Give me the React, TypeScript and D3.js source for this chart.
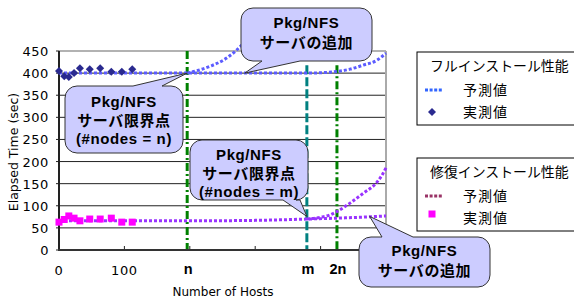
import React from "react";
import * as d3 from "d3";

// ---- data ----
const xTickValues = [0, 100, 200, 300, 400, 500];
const xTickLabels = ["0", "100"];
const yTickValues = [0, 50, 100, 150, 200, 250, 300, 350, 400, 450];
const markers = [
  { key: "n", value: 196, color: "#008000", dash: "8 3 2 3", top: 450 },
  { key: "m", value: 379, color: "#008080", dash: "9 3", top: 418 },
  { key: "2n", value: 425, color: "#008000", dash: "8 3 2 3", top: 418 },
];

const fullPredX = [0, 100, 200, 300, 380, 413, 445, 465, 486, 500];
const fullPredY = [400, 400, 400, 400, 400, 402, 409, 418, 429, 445];
const fullBranchX = [196, 212, 232, 252, 270, 285];
const fullBranchY = [400, 406, 416, 430, 450, 472];
const fullMeasX = [0, 8, 15, 23, 32, 47, 63, 80, 96, 112];
const fullMeasY = [405, 393, 391, 400, 411, 409, 411, 403, 403, 409];

const repPredX = [0, 100, 200, 300, 379, 425, 460, 500];
const repPredY = [66, 66, 66, 67, 70, 72, 74, 77];
const repBranchX = [379, 400, 414, 425, 445, 465, 486, 495, 500];
const repBranchY = [70, 74, 79, 87, 106, 128, 153, 172, 186];
const repMeasX = [0, 8, 15, 23, 32, 47, 63, 80, 96, 112];
const repMeasY = [63, 69, 77, 72, 66, 70, 70, 72, 63, 63];

const legend1 = { title: "フルインストール性能", pred: "予測値", meas: "実測値" };
const legend2 = { title: "修復インストール性能", pred: "予測値", meas: "実測値" };

const W = 574;
const H = 301;
const M = { left: 59, right: 386, top: 51, bottom: 250 };

const x = d3.scaleLinear().domain([0, 500]).range([M.left, M.right]);
const y = d3.scaleLinear().domain([0, 450]).range([M.bottom, M.top]);

const lineGen = d3
  .line<[number, number]>()
  .x((d) => x(d[0]))
  .y((d) => y(d[1]))
  .curve(d3.curveMonotoneX);

const zip = (a: number[], b: number[]) => a.map((v, i) => [v, b[i]] as [number, number]);

function callout(
  bx: number, by: number, bw: number, bh: number, r: number,
  side: "top" | "bottom", b1: number, b2: number, tx: number, ty: number
) {
  const p = d3.path();
  p.moveTo(bx + r, by);
  if (side === "top") { p.lineTo(b1, by); p.lineTo(tx, ty); p.lineTo(b2, by); }
  p.lineTo(bx + bw - r, by);
  p.arcTo(bx + bw, by, bx + bw, by + r, r);
  p.lineTo(bx + bw, by + bh - r);
  p.arcTo(bx + bw, by + bh, bx + bw - r, by + bh, r);
  if (side === "bottom") { p.lineTo(b2, by + bh); p.lineTo(tx, ty); p.lineTo(b1, by + bh); }
  p.lineTo(bx + r, by + bh);
  p.arcTo(bx, by + bh, bx, by + bh - r, r);
  p.lineTo(bx, by + r);
  p.arcTo(bx, by, bx + r, by, r);
  p.closePath();
  return p.toString();
}

const LAT = "'Liberation Sans', Arial, 'Noto Sans CJK JP', sans-serif";
const JP = "'Noto Sans CJK JP', sans-serif";
const TICKF = "'DejaVu Sans', sans-serif";

const callouts = [
  { box: [65, 86, 118, 67], side: "top" as const, base: [133, 162], tip: [196, 400], lines: ["Pkg/NFS", "サーバ限界点", "(#nodes = n)"], base0: 107, step: 18.5 },
  { box: [241, 8, 131, 53], side: "bottom" as const, base: [262, 300], tip: [284, 400], lines: ["Pkg/NFS", "サーバの追加"], base0: 28, step: 19.5 },
  { box: [190, 140, 118, 60], side: "bottom" as const, base: [283, 300], tip: [379, 76], lines: ["Pkg/NFS", "サーバ限界点", "(#nodes = m)"], base0: 160, step: 18.5 },
  { box: [359, 237, 131, 50], side: "top" as const, base: [382, 413], tip: [475, 76], lines: ["Pkg/NFS", "サーバの追加"], base0: 256, step: 19.5 },
];

const DIAMOND = "M0,-4L4,0L0,4L-4,0Z";

function Legend({ top, data, lineColor, marker }: { top: number; data: typeof legend1; lineColor: string; marker: "diamond" | "square" }) {
  return (
    <g>
      <rect x={417} y={top} width={170} height={73} fill="#fff" stroke="#000" strokeWidth={1} />
      <text x={430} y={top + 19} fontFamily={JP} fontSize={13.9} fill="#000">{data.title}</text>
      <line x1={425} x2={443} y1={top + 38} y2={top + 38} stroke={lineColor} strokeWidth={3} strokeDasharray="3 1.6" />
      <text x={463} y={top + 43} fontFamily={JP} fontSize={14} letterSpacing={1} fill="#000">{data.pred}</text>
      {marker === "diamond" ? (
        <path d={DIAMOND} transform={`translate(432,${top + 60})`} fill="#2a2a8f" />
      ) : (
        <rect x={428.5} y={top + 52.5} width={7} height={7} fill="#ff00ff" />
      )}
      <text x={463} y={top + 65} fontFamily={JP} fontSize={14} letterSpacing={1} fill="#000">{data.meas}</text>
    </g>
  );
}

export default function App() {
  return (
    <svg width={W} height={H} style={{ position: "absolute", left: 0, top: 0, background: "#fff" }}>
      <rect x={0} y={0} width={W} height={H} fill="#fff" />
      {/* grid */}
      {yTickValues.filter((v) => v > 0 && v < 450).map((v) => (
        <line key={v} x1={M.left} x2={M.right} y1={y(v)} y2={y(v)} stroke="#222" strokeWidth={1} />
      ))}
      {/* plot border */}
      <line x1={M.left} x2={M.right} y1={M.top} y2={M.top} stroke="#999" strokeWidth={1.5} />
      <line x1={M.right} x2={M.right} y1={M.top} y2={M.bottom} stroke="#aaa" strokeWidth={2} />
      {/* x ticks */}
      {xTickValues.map((v) => (
        <line key={v} x1={x(v)} x2={x(v)} y1={M.bottom} y2={M.bottom - 4} stroke="#222" strokeWidth={1} />
      ))}
      {/* y ticks */}
      {yTickValues.map((v) => (
        <line key={v} x1={M.left - 3} x2={M.left} y1={y(v)} y2={y(v)} stroke="#222" strokeWidth={1} />
      ))}
      {/* vertical markers */}
      {markers.map((mk) => (
        <line key={mk.key} x1={x(mk.value)} x2={x(mk.value)} y1={y(mk.top)} y2={M.bottom}
          stroke={mk.color} strokeWidth={3} strokeDasharray={mk.dash} />
      ))}
      {/* axes */}
      <line x1={M.left} x2={M.left} y1={M.top} y2={M.bottom + 1} stroke="#222" strokeWidth={2} />
      <line x1={M.left - 1} x2={M.right} y1={M.bottom} y2={M.bottom} stroke="#333" strokeWidth={2} />
      {/* lines */}
      <path d={lineGen(zip(fullBranchX, fullBranchY)) || ""} fill="none" stroke="#5c5cff" strokeWidth={3} strokeDasharray="3 2" />
      <path d={lineGen(zip(fullPredX, fullPredY)) || ""} fill="none" stroke="#5c5cff" strokeWidth={3} strokeDasharray="3 2" />
      <path d={lineGen(zip(repBranchX, repBranchY)) || ""} fill="none" stroke="#9933ff" strokeWidth={3} strokeDasharray="3 2" />
      <path d={lineGen(zip(repPredX, repPredY)) || ""} fill="none" stroke="#9933ff" strokeWidth={3} strokeDasharray="3 2" />
      {/* markers */}
      {zip(fullMeasX, fullMeasY).map((d, i) => (
        <path key={i} d={DIAMOND} transform={`translate(${x(d[0])},${y(d[1])})`} fill="#2a2a8f" />
      ))}
      {zip(repMeasX, repMeasY).map((d, i) => (
        <rect key={i} x={x(d[0]) - 3.5} y={y(d[1]) - 3.5} width={7} height={7} fill="#ff00ff" />
      ))}
      {/* y labels */}
      {yTickValues.map((v) => (
        <text key={v} x={49} y={y(v) + 5} textAnchor="end" fontFamily={TICKF} fontSize={13} letterSpacing={0.6} fill="#000">{v}</text>
      ))}
      {/* x labels */}
      {xTickLabels.map((l, i) => (
        <text key={l} x={x(xTickValues[i])} y={275} textAnchor="middle" fontFamily={TICKF} fontSize={13} letterSpacing={0.6} fill="#000">{l}</text>
      ))}
      {markers.map((mk) => (
        <text key={mk.key} x={x(mk.value) + 1} y={274} textAnchor="middle" fontFamily={LAT} fontWeight="bold" fontSize={14.5} fill="#000">{mk.key}</text>
      ))}
      <text x={223} y={296} textAnchor="middle" fontFamily={TICKF} fontSize={12} fill="#000">Number of Hosts</text>
      <text transform="translate(18,152) rotate(-90)" textAnchor="middle" fontFamily={TICKF} fontSize={12.5} fill="#000">Elapsed Time (sec)</text>
      {/* callouts */}
      {callouts.map((c, i) => {
        const [bx, by, bw, bh] = c.box;
        return (
          <g key={i}>
            <path d={callout(bx, by, bw, bh, 12, c.side, c.base[0], c.base[1], x(c.tip[0]), y(c.tip[1]))}
              fill="#ccccff" stroke="#333" strokeWidth={1} />
            {c.lines.map((l, j) => (
              <text key={j} x={bx + bw / 2} y={c.base0 + j * c.step} textAnchor="middle" fontFamily={LAT}
                fontWeight="bold" fontSize={15} letterSpacing={0.6} fill="#000">{l}</text>
            ))}
          </g>
        );
      })}
      <Legend top={52} data={legend1} lineColor="#3366ff" marker="diamond" />
      <Legend top={158} data={legend2} lineColor="#993366" marker="square" />
    </svg>
  );
}
